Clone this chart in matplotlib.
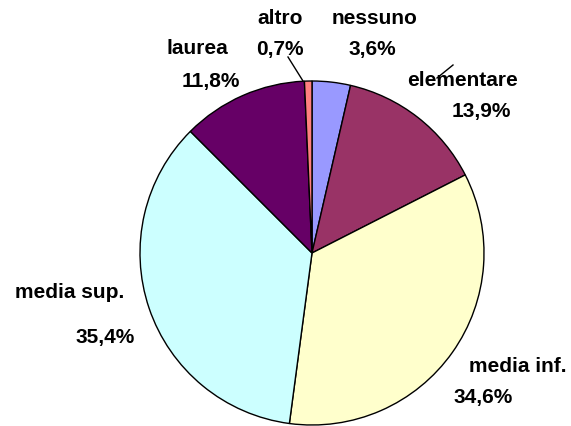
import matplotlib.pyplot as plt

# Titolo di studio - quote percentuali
categories = ['nessuno', 'elementare', 'media inf.', 'media sup.', 'laurea', 'altro']
values = [3.6, 13.9, 34.6, 35.4, 11.8, 0.7]
colors = ['#9999FF', '#993366', '#FFFFCC', '#CCFFFF', '#660066', '#FF8080']

# label anchors in pixel space (x, y from top): name line, percent line
name_pos = [(375, 18), (462, 80), (518, 367), (70, 292), (197, 49), (280, 18)]
pct_pos = [(372, 50), (481, 111), (483, 398), (105, 338), (211, 82), (280, 50)]

W, H = 571, 426
fig = plt.figure(figsize=(W / 100, H / 100), dpi=100)
ax = fig.add_axes([0, 0, 1, 1])

ax.pie(values, colors=colors, startangle=90, counterclock=False,
       center=(312, H - 253), radius=172,
       wedgeprops={'edgecolor': 'black', 'linewidth': 1.0})

font = dict(fontsize=15, fontweight='bold', family='Liberation Sans',
            ha='center', va='center', color='black')
for cat, v, npos, ppos in zip(categories, values, name_pos, pct_pos):
    ax.text(npos[0], H - npos[1], cat, **font)
    pct = f'{v:.1f}%'.replace('.', ',')
    ax.text(ppos[0], H - ppos[1], pct, **font)

# leader lines
ax.plot([288, 303], [H - 57, H - 81], color='black', lw=1)
ax.plot([453, 437], [H - 65, H - 78], color='black', lw=1, zorder=5)

ax.set_xlim(0, W)
ax.set_ylim(0, H)
ax.set_aspect('equal')
ax.axis('off')

plt.savefig('out.png', dpi=100, facecolor='white')
